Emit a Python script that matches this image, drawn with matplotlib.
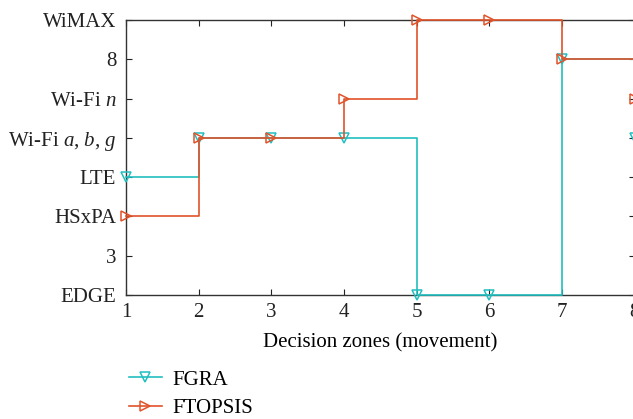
import matplotlib.pyplot as plt

plt.rcParams['font.family'] = 'Liberation Serif'
plt.rcParams['mathtext.fontset'] = 'custom'
plt.rcParams['mathtext.rm'] = 'Liberation Serif'
plt.rcParams['mathtext.it'] = 'Liberation Serif:italic'

# decision zones and networks (y levels 1..8)
zones = [1, 2, 3, 4, 5, 6, 7, 8]
ytick_labels = ['EDGE', '3', 'HSxPA', 'LTE', 'Wi-Fi $a$, $b$, $g$', 'Wi-Fi $n$', '8', 'WiMAX']
fgra = [4, 5, 5, 5, 1, 1, 7, 5]
ftopsis = [3, 5, 5, 6, 8, 8, 7, 6]

cyan = '#22bfc0'
orange = '#e0532a'

fig = plt.figure(figsize=(6.33, 4.19), dpi=100)
ax = fig.add_axes([0.199, 0.296, 0.804, 0.656])

ax.plot(zones, fgra, drawstyle='steps-post', color=cyan, lw=1.2,
        marker='v', ms=7, mfc='none', mec=cyan, mew=1.1, clip_on=False, label='FGRA', zorder=3)
ax.plot(zones, ftopsis, drawstyle='steps-post', color=orange, lw=1.2,
        marker='>', ms=7, mfc='none', mec=orange, mew=1.1, clip_on=False, label='FTOPSIS', zorder=4)

ax.set_xlim(1, 8)
ax.set_ylim(1, 8)
ax.set_xticks(zones)
ax.set_yticks(range(1, 9))
ax.set_yticklabels(ytick_labels)
ax.tick_params(direction='in', top=True, right=True, labelsize=15, length=4, colors='#222222')
ax.tick_params(axis='x', pad=6)
ax.tick_params(axis='y', pad=7)
for s in ax.spines.values():
    s.set_color('#333333')
    s.set_linewidth(1.0)

ax.set_xlabel('Decision zones (movement)', fontsize=15, labelpad=8)

fig.legend(loc='upper left', bbox_to_anchor=(0.19, 0.137), frameon=False,
           fontsize=15, handlelength=1.6, handletextpad=0.5, labelspacing=0.45,
           borderaxespad=0)

fig.savefig('out.png', dpi=100)
